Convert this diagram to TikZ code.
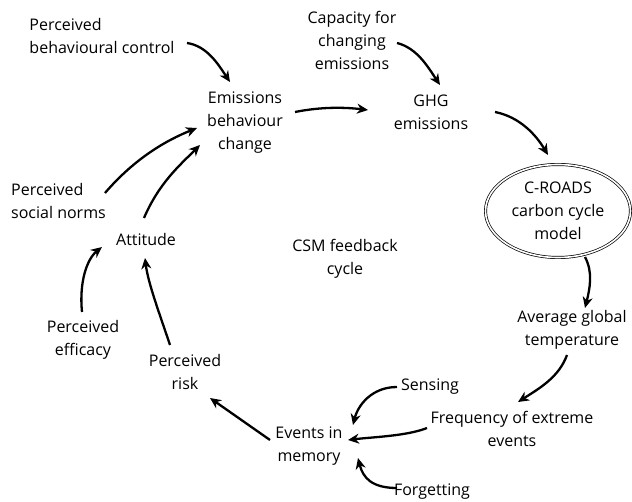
\documentclass[tikz,border=0pt]{standalone}
\usepackage{fontspec}
\setmainfont{Open Sans}
\usetikzlibrary{arrows.meta,shapes.geometric,calc}
\begin{document}
\begin{tikzpicture}[x=1pt,y=-1pt,
  lbl/.style={inner sep=1pt,align=center,font=\fontsize{16}{23}\selectfont},
  lbll/.style={lbl,align=left},
  arr/.style={line width=2.3pt,-{Stealth[length=11pt,width=10pt,inset=3.5pt]}},
  model/.style={lbl,ellipse,draw,double,double distance=1.6pt,line width=0.7pt,minimum width=145pt,minimum height=93pt,inner sep=0pt}]
\useasboundingbox (0,0) rectangle (632,502);
\node[lbll] (pbc) at (102,36.5) {Perceived\\behavioural control};
\node[lbl] (cap) at (352,40) {Capacity for\\changing\\emissions};
\node[lbl] (ebc) at (245,123) {Emissions\\behaviour\\change};
\node[lbl] (ghg) at (431,112) {GHG\\emissions};
\node[model] (croads) at (558,211) {C-ROADS\\carbon cycle\\model};
\node[lbl] (avg) at (572,330) {Average global\\temperature};
\node[lbl] (freq) at (512,429) {Frequency of extreme\\events};
\node[lbl] (sens) at (430,387) {Sensing};
\node[lbl] (events) at (309,446) {Events in\\memory};
\node[lbl] (forg) at (432,492) {Forgetting};
\node[lbl] (risk) at (185,372) {Perceived\\risk};
\node[lbl] (eff) at (83,340) {Perceived\\efficacy};
\node[lbl] (att) at (146,240) {Attitude};
\node[lbll] (psn) at (58.5,201) {Perceived\\social norms};
\node[lbl] (csm) at (345,259) {CSM feedback\\cycle};

\draw[arr] ($(pbc.center)+(85,6.5)$) .. controls +(20,3) and +(-12,-18) .. ($(ebc.center)+(-15,-41)$);
\draw[arr] ($(cap.center)+(45,3)$) .. controls +(20,5) and +(-12,-18) .. ($(ghg.center)+(9,-27)$);
\draw[arr] ($(ebc.center)+(50,-11)$) .. controls +(25,-5) and +(-25,-3) .. ($(ghg.center)+(-63,-2)$);
\draw[arr] ($(ghg.center)+(64,0)$) .. controls +(25,5) and +(-12,-20) .. ($(croads.center)+(-10,-56)$);
\draw[arr] ($(croads.center)+(27,46)$) .. controls +(8,15) and +(5,-20) .. ($(avg.center)+(13,-22)$);
\draw[arr] ($(avg.center)+(-5,25)$) .. controls +(-8,22) and +(22,-14) .. ($(freq.center)+(6,-27)$);
\draw[arr] ($(sens.center)+(-33,0)$) .. controls +(-25,0) and +(5,-20) .. ($(events.center)+(44,-21)$);
\draw[arr] ($(freq.center)+(-85,-1)$) .. controls +(-20,8) and +(25,-3) .. ($(events.center)+(39,-6)$);
\draw[arr] ($(forg.center)+(-35,-4)$) .. controls +(-25,0) and +(5,20) .. ($(events.center)+(49,12)$);
\draw[arr] ($(events.center)+(-39,-6)$) -- ($(risk.center)+(25,26)$);
\draw[arr] ($(risk.center)+(-15,-27)$) .. controls +(-10,-30) and +(3,25) .. ($(att.center)+(-1,18)$);
\draw[arr] ($(eff.center)+(-1,-28)$) .. controls +(-3,-30) and +(-15,12) .. ($(att.center)+(-44,7)$);
\draw[arr] ($(att.center)+(-2,-22)$) .. controls +(15,-35) and +(-20,20) .. ($(ebc.center)+(-45,22)$);
\draw[arr] ($(psn.center)+(46.5,-8)$) .. controls +(30,-35) and +(-30,12) .. ($(ebc.center)+(-48,5)$);
\end{tikzpicture}
\end{document}
